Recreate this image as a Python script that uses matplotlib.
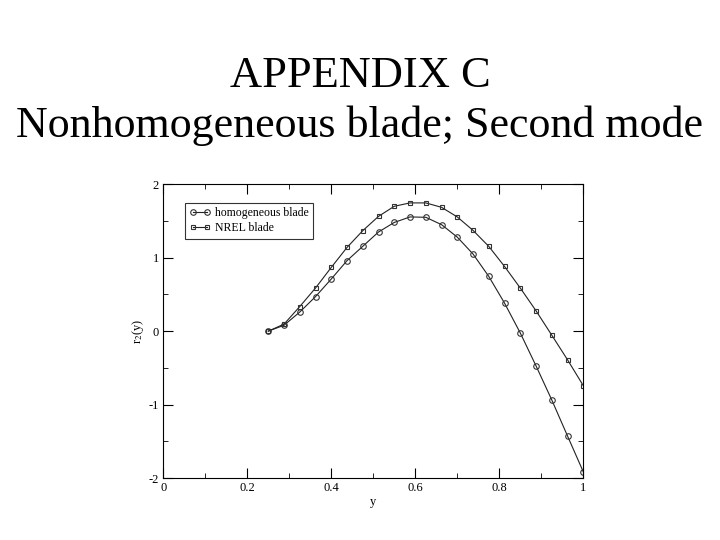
import matplotlib
matplotlib.use("Agg")
import matplotlib.pyplot as plt
from matplotlib.ticker import MultipleLocator, FixedLocator

plt.rcParams['font.family'] = ['Liberation Serif', 'DejaVu Serif']
plt.rcParams['mathtext.fontset'] = 'stix'

x = [0.25, 0.2875, 0.325, 0.3625, 0.4, 0.4375, 0.475, 0.5125, 0.55, 0.5875,
     0.625, 0.6625, 0.7, 0.7375, 0.775, 0.8125, 0.85, 0.8875, 0.925, 0.9625, 1.0]
homogeneous = [0.0, 0.08, 0.26, 0.47, 0.71, 0.96, 1.155, 1.35, 1.48, 1.555,
               1.55, 1.45, 1.28, 1.05, 0.745, 0.382, -0.025, -0.473, -0.937, -1.428, -1.915]
nrel = [0.0, 0.095, 0.335, 0.587, 0.868, 1.14, 1.368, 1.563, 1.70, 1.746,
        1.746, 1.686, 1.555, 1.372, 1.154, 0.881, 0.587, 0.277, -0.055, -0.39, -0.742]
xticks = [0, 0.2, 0.4, 0.6, 0.8, 1]
xticklabels = ["0", "0.2", "0.4", "0.6", "0.8", "1"]
yticks = [-2, -1, 0, 1, 2]
yticklabels = ["-2", "-1", "0", "1", "2"]

fig = plt.figure(figsize=(7.2, 5.4), dpi=100)
fig.text(0.5, 0.8395, "APPENDIX C", ha='center', va='baseline', fontsize=32)
fig.text(0.5, 0.7469, "Nonhomogeneous blade; Second mode", ha='center', va='baseline', fontsize=31.7)

ax = fig.add_axes([0.2268, 0.1148, 0.5833, 0.544])
ax.plot(x, homogeneous, color='#222222', lw=0.8, marker='o', ms=4,
        mfc='none', mec='#333333', mew=0.8, label='homogeneous blade')
ax.plot(x, nrel, color='#222222', lw=0.8, marker='s', ms=3.5,
        mfc='none', mec='#333333', mew=0.8, label='NREL blade')

ax.set_xlim(0, 1)
ax.set_ylim(-2, 2)
ax.xaxis.set_major_locator(FixedLocator(xticks))
ax.set_xticklabels(xticklabels)
ax.yaxis.set_major_locator(FixedLocator(yticks))
ax.set_yticklabels(yticklabels)
ax.xaxis.set_minor_locator(MultipleLocator(0.1))
ax.yaxis.set_minor_locator(MultipleLocator(0.5))
ax.tick_params(which='both', direction='in', top=True, right=True, labelsize=9, pad=3)
ax.tick_params(which='major', length=7, width=0.8)
ax.tick_params(which='minor', length=3.5, width=0.6)
for s in ax.spines.values():
    s.set_linewidth(0.8)
ax.set_xlabel("y", fontsize=9, labelpad=1)
ax.set_ylabel("r$_2$(y)", fontsize=9, labelpad=2)

leg = ax.legend(loc='upper left', bbox_to_anchor=(0.052, 0.935), fontsize=8.5,
                frameon=True, fancybox=False, edgecolor='black', handlelength=1.8,
                numpoints=2, borderpad=0.35, labelspacing=0.25, handletextpad=0.4,
                borderaxespad=0)
leg.get_frame().set_linewidth(0.8)

fig.savefig("out.png", dpi=100)
